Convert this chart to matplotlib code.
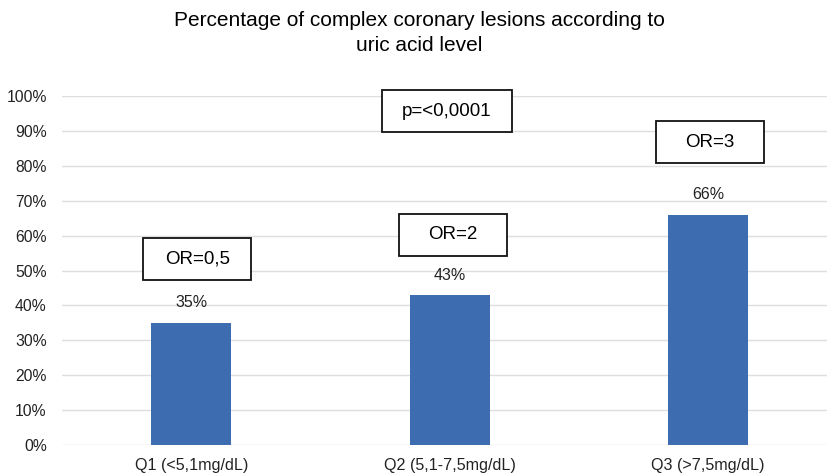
import numpy as np
import matplotlib.pyplot as plt
from matplotlib.patches import Rectangle
from matplotlib.ticker import PercentFormatter

plt.rcParams['font.family'] = ['Liberation Sans', 'DejaVu Sans']

# data
categories = ['Q1 (<5,1mg/dL)', 'Q2 (5,1-7,5mg/dL)', 'Q3 (>7,5mg/dL)']
values = [35, 43, 66]
value_labels = ['35%', '43%', '66%']

# annotation boxes: label, category anchor, y centre (%)
box_labels = ['OR=0,5', 'OR=2', 'OR=3', 'p=<0,0001']
box_cat = [0.023, 1.012, 2.008, 0.99]
box_y = [53.3, 60.2, 86.8, 95.6]
box_w = [0.418, 0.418, 0.418, 0.50]

fig = plt.figure(figsize=(8.27, 4.76), dpi=100)
ax = fig.add_axes([0.075, 0.0651, 0.925, 0.7332])

x = np.arange(len(categories))
ax.bar(x, values, width=0.31, color='#3d6db0', zorder=3)

for xi, v, lab in zip(x, values, value_labels):
    ax.text(xi, v + 5.7, lab, ha='center', va='center', fontsize=11.5, color='#222222')

for lab, cx, y, w in zip(box_labels, box_cat, box_y, box_w):
    ax.add_patch(Rectangle((cx - w / 2, y - 6), w, 12, facecolor='white',
                           edgecolor='#111111', linewidth=1.3, zorder=4,
                           clip_on=False))
    ax.text(cx, y, lab, ha='center', va='center', fontsize=13.5, zorder=5,
            clip_on=False)

ax.set_xlim(-0.5, 2.46)
ax.set_ylim(0, 100)
ax.set_yticks(np.arange(0, 101, 10))
ax.yaxis.set_major_formatter(PercentFormatter(decimals=0))
ax.set_xticks(x)
ax.set_xticklabels(categories)
ax.grid(axis='y', color='#dedede', linewidth=1.0, zorder=0)
for s in ax.spines.values():
    s.set_visible(False)
ax.tick_params(axis='both', length=0, colors='#222222')
ax.tick_params(axis='y', pad=11, labelsize=11.3)
ax.tick_params(axis='x', pad=9, labelsize=11.6)

fig.suptitle('Percentage of complex coronary lesions according to\nuric acid level',
             x=0.507, y=0.977, fontsize=15, linespacing=1.4)

fig.savefig('out.png', dpi=100)
